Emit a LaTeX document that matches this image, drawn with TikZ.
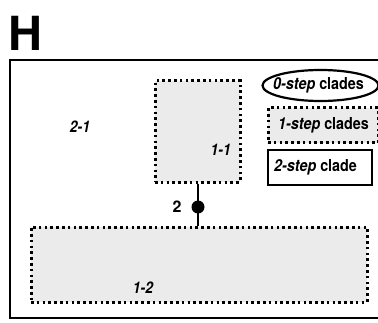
\documentclass[tikz,border=0pt]{standalone}
\usepackage{fontspec}
\setmainfont{TeX Gyre Heros}
\usetikzlibrary{shapes.geometric}
\newcommand{\narrow}[1]{\scalebox{0.87}[1]{#1}}
\begin{document}
\begin{tikzpicture}[x=1pt,y=1pt,
  dotbox/.style={draw=black, fill=gray!16, line width=3pt,
    dash pattern=on 2.6pt off 3.2pt, line cap=butt},
  lab/.style={font=\fontsize{16}{16}\selectfont\bfseries\itshape, inner sep=0pt},
  legtext/.style={font=\fontsize{16.5}{16.5}\selectfont\bfseries, inner sep=0pt}]
\useasboundingbox (0,0) rectangle (378,322);
% panel letter
\node[font=\fontsize{47}{47}\selectfont\bfseries, inner sep=0pt, anchor=south west] (panel) at (8,271) {H};
% outer frame (2-step clade)
\draw[line width=2.8pt] (10,4) rectangle (390,262);
\node[lab] (l21) at (80,195) {\narrow{2-1}};
% 1-step clades
\node[dotbox, minimum width=85pt, minimum height=101pt, inner sep=0pt] (c11) at (197.5,190.5) {};
\node[lab, anchor=east] (l11) at (231,172) {\narrow{1-1}};
\node[dotbox, minimum width=336pt, minimum height=75pt, inner sep=0pt] (c12) at (199,57.5) {};
\node[lab] (l12) at (143,34) {\narrow{1-2}};
% connector with mutation step
\node[circle, fill=black, minimum size=13pt, inner sep=0pt] (m) at (198,115) {};
\draw[line width=2.6pt] (c11.south -| m) -- (m.center) -- (m |- c12.north);
\node[font=\fontsize{16}{16}\selectfont\bfseries, inner sep=0pt] (n2) at (177,115) {2};
% legend
\node[ellipse, draw, line width=2.2pt, minimum width=116pt, minimum height=31pt, inner sep=0pt] (k0) at (320.5,236.5) {};
\node[legtext, anchor=west] (k0t) at (273,236.5) {\narrow{\textit{0-step} clades}};
\node[dotbox, minimum width=110pt, minimum height=35pt, inner sep=0pt] (k1) at (323,196.5) {};
\node[legtext, anchor=west] (k1t) at (278,196.5) {\narrow{\textit{1-step} clades}};
\node[draw, line width=2.2pt, minimum width=104pt, minimum height=35pt, inner sep=0pt] (k2) at (320,154.5) {};
\node[legtext, anchor=west] (k2t) at (274,154.5) {\narrow{\textit{2-step} clade}};
\end{tikzpicture}
\end{document}
